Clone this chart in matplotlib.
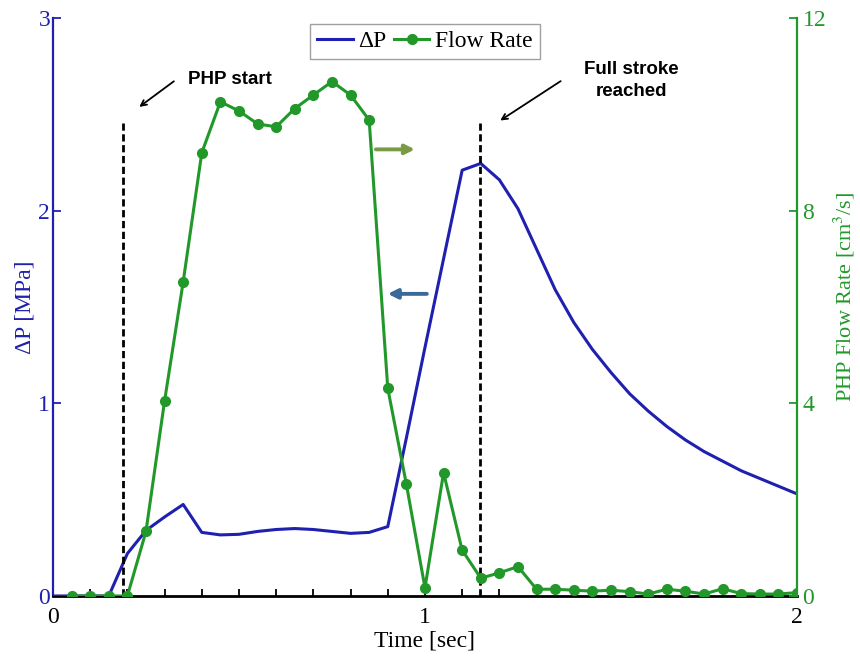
import numpy as np
import matplotlib
matplotlib.use('Agg')
import matplotlib.pyplot as plt
from matplotlib.ticker import MultipleLocator

# ==========================================
# datos
# ==========================================
t_flujo = np.round(np.arange(1, 41) * 0.05, 2)
caudal = [0, 0, 0, 0, 1.34, 4.05, 6.52, 9.20, 10.26, 10.07,
          9.80, 9.74, 10.12, 10.40, 10.68, 10.40, 9.88, 4.31, 2.32, 0.17,
          2.56, 0.95, 0.37, 0.48, 0.61, 0.14, 0.14, 0.12, 0.10, 0.12,
          0.09, 0.04, 0.14, 0.10, 0.04, 0.15, 0.05, 0.04, 0.04, 0.07]

t_presion = np.round(np.arange(0, 41) * 0.05, 2)
delta_p = [0, 0, 0, 0.0, 0.22, 0.34, 0.41, 0.475, 0.33, 0.317,
           0.32, 0.335, 0.345, 0.35, 0.345, 0.335, 0.325, 0.33, 0.36, 0.82,
           1.29, 1.75, 2.21, 2.245, 2.16, 2.01, 1.80, 1.59, 1.42, 1.28,
           1.16, 1.05, 0.96, 0.88, 0.81, 0.75, 0.70, 0.65, 0.61, 0.57, 0.53]

t_inicio = 0.187
t_carrera = 1.148

azul = '#2020b0'
verde = '#22982a'

plt.rcParams['font.family'] = ['Liberation Serif', 'DejaVu Serif']
plt.rcParams['mathtext.fontset'] = 'stix'

fig = plt.figure(figsize=(8.6, 6.56), dpi=100)
ax = fig.add_axes([0.0616, 0.0915, 0.8651, 0.8811])
ax2 = ax.twinx()

ax.plot(t_presion, delta_p, color=azul, lw=2.2, label='ΔP', zorder=3)
ax2.plot(t_flujo, caudal, color=verde, lw=2.2, marker='o', ms=7, label='Flow Rate', zorder=3)

for t in [t_inicio, t_carrera]:
    ax.plot([t, t], [0, 2.455], color='black', ls=(0, (2.6, 1.3)), lw=2, zorder=4)

ax.set_xlim(0, 2)
ax.set_ylim(0, 3)
ax2.set_ylim(0, 12)

ax.set_xticks([0, 1, 2])
ax.xaxis.set_minor_locator(MultipleLocator(0.1))
ax.set_yticks([0, 1, 2, 3])
ax2.set_yticks([0, 4, 8, 12])

ax.tick_params(axis='x', direction='in', length=6, width=1.3, labelsize=17, colors='black', pad=8)
ax.tick_params(axis='x', which='minor', direction='in', length=5, width=1.3)
ax.tick_params(axis='y', direction='in', length=6, width=1.3, labelsize=17, colors=azul, pad=2)
ax2.tick_params(axis='y', direction='in', length=6, width=1.3, labelsize=17, colors=verde, pad=4)

ax.spines['top'].set_visible(False)
ax2.spines['top'].set_visible(False)
ax.spines['right'].set_visible(False)
ax2.spines['left'].set_visible(False)
ax.spines['left'].set_color(azul)
ax.spines['left'].set_linewidth(1.6)
ax2.spines['right'].set_color(verde)
ax2.spines['right'].set_linewidth(1.6)
ax.spines['bottom'].set_linewidth(2)
ax2.spines['bottom'].set_visible(False)

ax.set_xlabel('Time [sec]', fontsize=17, labelpad=2)
ax.set_ylabel('ΔP [MPa]', fontsize=17, color=azul, labelpad=2)
ax2.set_ylabel('PHP Flow Rate [cm$^3$/s]', fontsize=16, color=verde)
ax2.yaxis.set_label_coords(1.047, 0.517)

# anotaciones
ax.annotate('', xy=(0.226, 2.53), xytext=(0.331, 2.68),
            arrowprops=dict(arrowstyle='->', color='black', lw=1.3))
ax.text(0.363, 2.68, 'PHP start', family=['Liberation Sans', 'DejaVu Sans'],
        fontweight='bold', fontsize=13.5, va='center', ha='left')
ax.annotate('', xy=(1.196, 2.46), xytext=(1.371, 2.68),
            arrowprops=dict(arrowstyle='->', color='black', lw=1.3))
ax.text(1.556, 2.675, 'Full stroke\nreached', family=['Liberation Sans', 'DejaVu Sans'],
        fontweight='bold', fontsize=13.5, va='center', ha='center', linespacing=1.35)

ax.annotate('', xy=(0.973, 2.318), xytext=(0.868, 2.318),
            arrowprops=dict(arrowstyle='-|>', color='#7a9a45', lw=2.8, mutation_scale=14,
                            shrinkA=0, shrinkB=0))
ax.annotate('', xy=(0.9, 1.568), xytext=(1.005, 1.568),
            arrowprops=dict(arrowstyle='-|>', color='#3a6a9a', lw=2.8, mutation_scale=14,
                            shrinkA=0, shrinkB=0))

l1, lab1 = ax.get_legend_handles_labels()
l2, lab2 = ax2.get_legend_handles_labels()
leg = ax2.legend(l1 + l2, lab1 + lab2, loc='upper center', bbox_to_anchor=(0.5, 0.99),
                 ncol=2, fontsize=17, fancybox=False, edgecolor='#888888',
                 handlelength=1.5, handletextpad=0.25, columnspacing=0.3,
                 borderpad=0.3, borderaxespad=0)
leg.get_frame().set_linewidth(1)

fig.savefig('out.png', dpi=100)
